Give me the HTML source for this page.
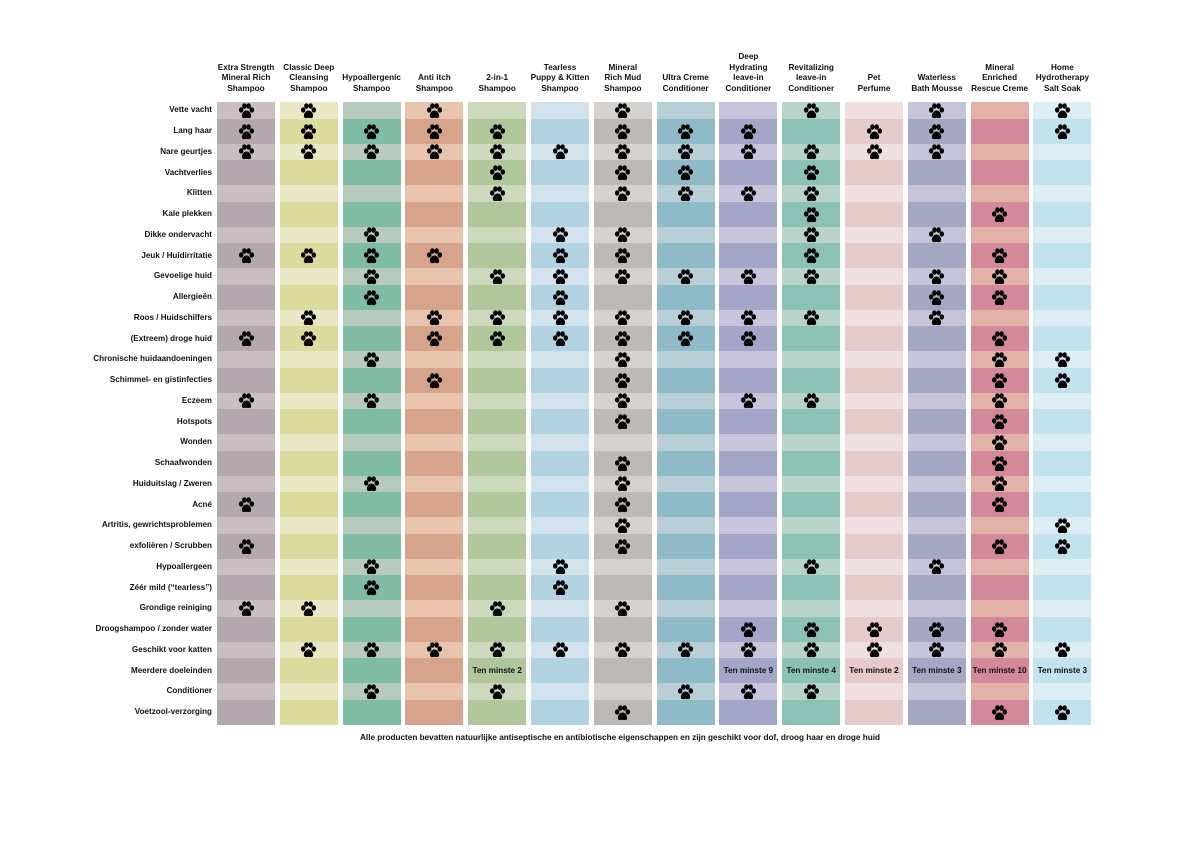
<!DOCTYPE html>
<html><head><meta charset="utf-8"><style>
body{margin:0;background:#fff;width:1191px;height:842px;position:relative;overflow:hidden;font-family:"Liberation Sans",Arial,sans-serif;}
.c{position:absolute;}
.h{position:absolute;font-weight:bold;font-size:8.2px;line-height:10.5px;text-align:center;color:#111;width:70px;bottom:748px;}
.l{position:absolute;font-weight:bold;font-size:8.1px;right:979px;color:#111;white-space:nowrap;}
.t{position:absolute;font-weight:bold;font-size:8.2px;color:#111;text-align:center;width:62px;}
svg.p{position:absolute;width:17px;height:16px;}
#foot{position:absolute;top:733px;left:0;width:1240px;text-align:center;font-weight:bold;font-size:8.2px;color:#111;}
</style></head><body>
<svg width="0" height="0" style="position:absolute"><defs><symbol id="paw" viewBox="0 0 16 15">
<ellipse cx="3" cy="6.5" rx="2.1" ry="2.5" fill="#000"/><ellipse cx="6" cy="2.8" rx="2.1" ry="2.6" fill="#000"/><ellipse cx="10" cy="2.8" rx="2.1" ry="2.6" fill="#000"/><ellipse cx="13" cy="6.5" rx="2.1" ry="2.5" fill="#000"/>
<path d="M8 7C5.4 7 3.6 10 3.6 12.2C3.6 14.3 5.6 14.6 8 13.9C10.4 14.6 12.4 14.3 12.4 12.2C12.4 10 10.6 7 8 7Z" fill="#000"/></symbol></defs></svg>
<div id="root"></div>
<div id="foot">Alle producten bevatten natuurlijke antiseptische en antibiotische eigenschappen en zijn geschikt voor dof, droog haar en droge huid</div>
<script>
var heads=["Extra Strength<br>Mineral Rich<br>Shampoo","Classic Deep<br>Cleansing<br>Shampoo","Hypoallergenic<br>Shampoo","Anti itch<br>Shampoo","2-in-1<br>Shampoo","Tearless<br>Puppy &amp; Kitten<br>Shampoo","Mineral<br>Rich Mud<br>Shampoo","Ultra Creme<br>Conditioner","Deep<br>Hydrating<br>leave-in<br>Conditioner","Revitalizing<br>leave-in<br>Conditioner","Pet<br>Perfume","Waterless<br>Bath Mousse","Mineral<br>Enriched<br>Rescue Creme","Home<br>Hydrotherapy<br>Salt Soak"];
var cols=[["#c9bec2","#b3a8ad"],["#e9e8c4","#dcdc9e"],["#b6cbbd","#7fbba5"],["#e8c3ad","#d6a48a"],["#ccd9bd","#b0c79c"],["#d2e3ee","#b1d3e2"],["#d4d1ce","#bdb9b6"],["#b9cfd7","#8fbac7"],["#c7c4dc","#a3a6c8"],["#b8d3c9","#8cc2b6"],["#f0dfe0","#e5cccb"],["#c5c4d9","#a4a8c2"],["#e2b2a8","#d4899a"],["#dcedf4","#c2e2ee"]];
var rows=[["Vette vacht",[1,2,4,7,10,12,14]],["Lang haar",[1,2,3,4,5,7,8,9,11,12,14]],["Nare geurtjes",[1,2,3,4,5,6,7,8,9,10,11,12]],["Vachtverlies",[5,7,8,10]],["Klitten",[5,7,8,9,10]],["Kale plekken",[10,13]],["Dikke ondervacht",[3,6,7,10,12]],["Jeuk / Huidirritatie",[1,2,3,4,6,7,10,13]],["Gevoelige huid",[3,5,6,7,8,9,10,12,13]],["Allergieën",[3,6,12,13]],["Roos / Huidschilfers",[2,4,5,6,7,8,9,10,12]],["(Extreem) droge huid",[1,2,4,5,6,7,8,9,13]],["Chronische huidaandoeningen",[3,7,13,14]],["Schimmel- en gistinfecties",[4,7,13,14]],["Eczeem",[1,3,7,9,10,13]],["Hotspots",[7,13]],["Wonden",[13]],["Schaafwonden",[7,13]],["Huiduitslag / Zweren",[3,7,13]],["Acné",[1,7,13]],["Artritis, gewrichtsproblemen",[7,14]],["exfoliëren / Scrubben",[1,7,13,14]],["Hypoallergeen",[3,6,10,12]],["Zéér mild (“tearless”)",[3,6]],["Grondige reiniging",[1,2,5,7]],["Droogshampoo / zonder water",[9,10,11,12,13]],["Geschikt voor katten",[2,3,4,5,6,7,8,9,10,11,12,13,14]],["Meerdere doeleinden",[]],["Conditioner",[3,5,8,9,10]],["Voetzool-verzorging",[7,13,14]]];
var txt={5:"Ten minste 2",9:"Ten minste 9",10:"Ten minste 4",11:"Ten minste 2",12:"Ten minste 3",13:"Ten minste 10",14:"Ten minste 3"};
var h="";var X0=217,P=62.8,W=58;
for(var c=0;c<14;c++){var x=X0+c*P;h+='<div class="h" style="left:'+(x+W/2-35)+'px">'+heads[c]+'</div>';}
var y=102;
for(var r=0;r<30;r++){var dark=r%2==1;var rh=dark?25:16.5;
 h+='<div class="l" style="top:'+(y+rh/2-5)+'px">'+rows[r][0]+'</div>';
 for(var c=0;c<14;c++){var x=X0+c*P;h+='<div class="c" style="left:'+x+'px;top:'+y+'px;width:'+W+'px;height:'+(rh+0.6)+'px;background:'+cols[c][dark?1:0]+'"></div>';
  if(rows[r][1].indexOf(c+1)>=0)h+='<svg class="p" style="left:'+(x+W/2-8.5)+'px;top:'+(y+rh/2-7.5)+'px"><use href="#paw"/></svg>';
  if(r==27&&txt[c+1])h+='<div class="t" style="left:'+(x+W/2-31)+'px;top:'+(y+rh/2-5)+'px">'+txt[c+1]+'</div>';}
 y+=rh;}
document.getElementById('root').innerHTML=h;
</script>
</body></html>
